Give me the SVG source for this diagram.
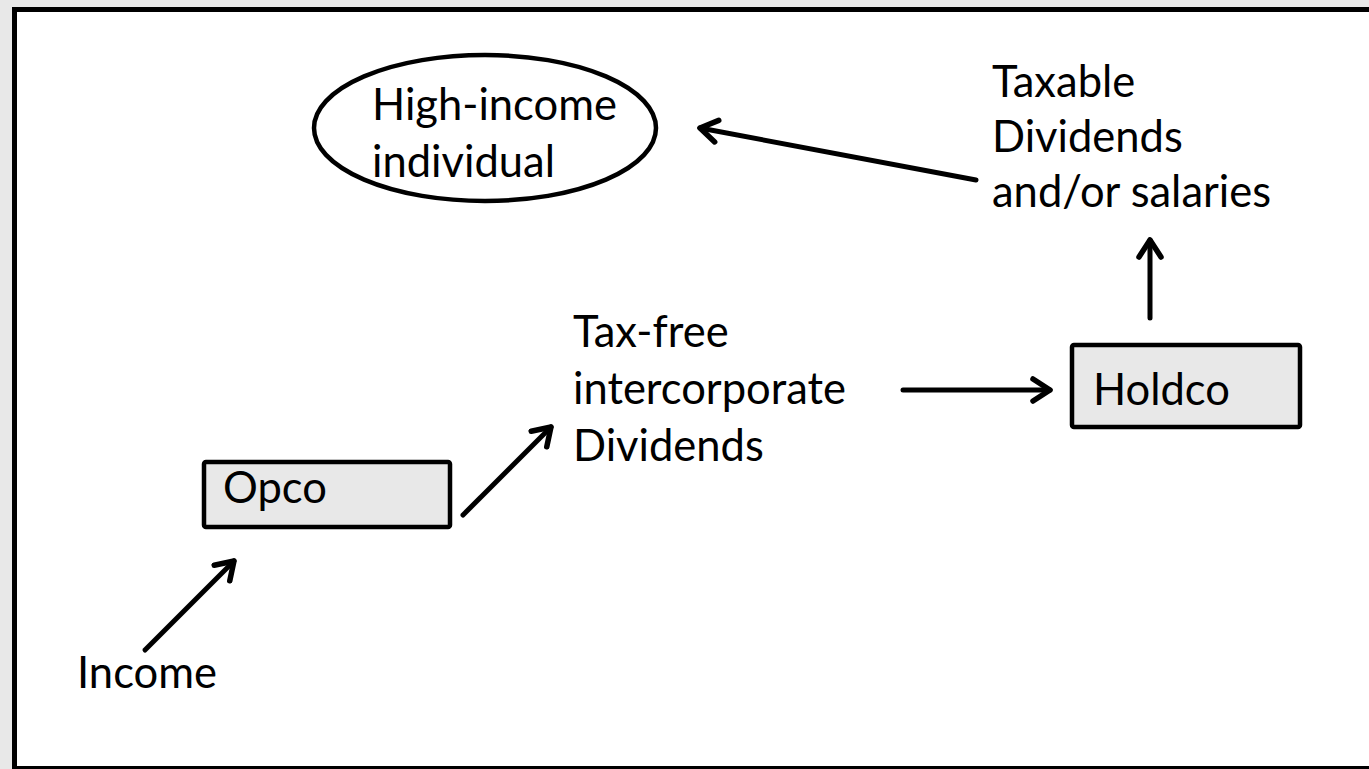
<svg xmlns="http://www.w3.org/2000/svg" width="1369" height="769" viewBox="0 0 1369 769">
<defs>
<style>
text{font-family:Lato,"Liberation Sans",sans-serif;font-size:43.5px;fill:#000}
.box{fill:#e8e8e8;stroke:#000;stroke-width:4.5}
.con{stroke:#000;stroke-width:5;fill:none;stroke-linecap:round}
</style>
<marker id="ah" markerUnits="userSpaceOnUse" viewBox="-22 -14 26 28" markerWidth="26" markerHeight="28" refX="0" refY="0" orient="auto">
<path d="M-17,-11 L0,0 L-17,11" fill="none" stroke="#000" stroke-width="5.5" stroke-linecap="round" stroke-linejoin="round"/>
</marker>
</defs>
<rect width="1369" height="769" fill="#e8e8e8"/>
<rect x="14.5" y="9.5" width="1400" height="759" fill="#fff" stroke="#000" stroke-width="5"/>
<g id="connectors">
<line class="con" x1="145" y1="650" x2="234" y2="561" marker-end="url(#ah)"/>
<line class="con" x1="463" y1="515" x2="551" y2="427" marker-end="url(#ah)"/>
<line class="con" x1="903" y1="390" x2="1050" y2="390" marker-end="url(#ah)"/>
<line class="con" x1="1150" y1="318" x2="1150" y2="240" marker-end="url(#ah)"/>
<line class="con" x1="976" y1="180" x2="700" y2="128" marker-end="url(#ah)"/>
</g>
<g id="node-individual">
<ellipse cx="485" cy="128" rx="171" ry="73" fill="none" stroke="#000" stroke-width="4.5"/>
<text x="372" y="120">High-income</text>
<text x="372" y="177">individual</text>
</g>
<g id="node-opco">
<rect class="box" x="204" y="462" width="246" height="65" rx="2"/>
<text x="223" y="503">Opco</text>
</g>
<g id="node-holdco">
<rect class="box" x="1072" y="345" width="228" height="82" rx="2"/>
<text x="1093" y="405">Holdco</text>
</g>
<g id="label-taxfree">
<text x="573" y="347">Tax-free</text>
<text x="573" y="404">intercorporate</text>
<text x="573" y="461">Dividends</text>
</g>
<g id="label-taxable">
<text x="992" y="97">Taxable</text>
<text x="992" y="152">Dividends</text>
<text x="992" y="207">and/or salaries</text>
</g>
<g id="label-income">
<text x="77" y="688">Income</text>
</g>
</svg>
